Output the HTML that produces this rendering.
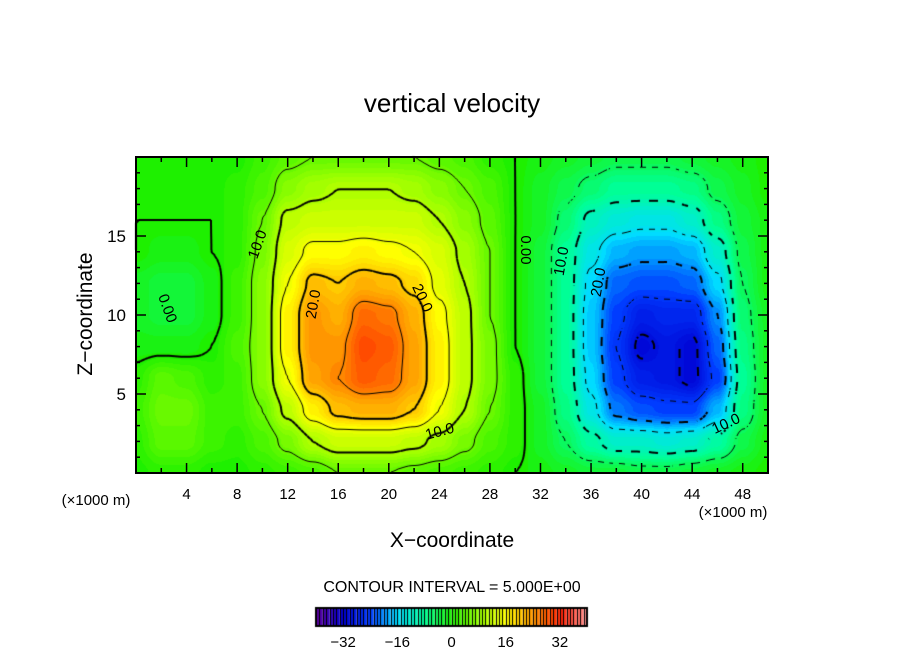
<!DOCTYPE html>
<html><head><meta charset="utf-8"><style>
body{margin:0;background:#fff;}
#wrap{position:relative;width:904px;height:654px;overflow:hidden;font-family:"Liberation Sans",sans-serif;}
canvas,svg{position:absolute;left:0;top:0;}
</style></head><body>
<div id="wrap">
<canvas id="cv" width="904" height="654"></canvas>
<svg id="sv" width="904" height="654"></svg>
</div>
<script>
const xVals=[0,2,4,6,8,10,12,14,16,18,20,22,24,26,28,30,32,34,36,38,40,42,44,46,48,50];
const zVals=[0,2,4,6,8,10,12,14,16,18,20];
const field=[
[0,1,1,0,0,1,2,3,5,5,5,4,3,2,1,0,-1,-2,-3,-3,-4,-4,-3,-2,-1,0],
[1,4,4,2,1,3,6,10,12,12,12,11,9,6,3,1,-2,-5,-9,-12,-12,-13,-12,-9,-4,-1],
[2,5,5,2,2,5,11,17,21,22,22,20,15,10,5,1,-2,-7,-14,-21,-23,-24,-24,-18,-7,-2],
[1,4,3,1,2,7,15,23,25,28,27,23,17,11,6,1,-3,-8,-16,-24,-28,-29,-31,-24,-8,-2],
[-1,-1,-1,0,3,7,17,24,24,29,28,23,17,11,6,0,-3,-8,-17,-25,-31,-29,-31,-22,-7,-2],
[-2,-3,-3,-1,2,7,17,24,22,27,26,22,16,11,5,0,-3,-8,-17,-24,-28,-27,-27,-20,-6,-2],
[-2,-3,-3,-1,2,7,15,21,20,22,21,19,14,10,5,0,-3,-8,-16,-22,-23,-23,-22,-16,-5,-1],
[0,-1,-1,0,1,6,13,16,16,17,16,15,13,9,5,0,-3,-8,-14,-18,-19,-19,-18,-12,-4,-1],
[0,0,0,0,1,5,11,12,12,12,12,12,10,7,4,0,-2,-6,-11,-13,-14,-14,-12,-7,-3,-1],
[0,0,0,0,1,3,7,9,10,10,10,9,7,5,3,0,-2,-4,-6,-8,-8,-8,-7,-4,-2,0],
[0,0,0,0,0,2,4,5,5,5,5,5,4,3,1,0,-1,-2,-3,-4,-4,-4,-3,-2,-1,0]];
const xTicks=[4,8,12,16,20,24,28,32,36,40,44,48];
const zTicks=[5,10,15];
const cbTicks=[-32,-16,0,16,32];
const levels=[-30,-25,-20,-15,-10,-5,0,5,10,15,20,25,30];

const L=136,R=768,T=157,B=473;
const xs=v=>L+(v-0)/(50-0)*(R-L);
const zs=v=>B-(v-0)/(20-0)*(B-T);
const cbL=316,cbR=587;
const cs=v=>cbL+(v+40)/80*(cbR-cbL);

const stops=[[-40,[96,0,160]],[-32,[0,0,210]],[-24,[0,60,255]],[-16,[0,220,255]],[-8,[0,255,150]],[0,[30,240,0]],[8,[150,255,0]],[16,[255,255,0]],[24,[255,150,0]],[32,[255,30,0]],[40,[255,150,150]]];
function cmap(v){v=Math.max(-40,Math.min(40,v));for(let i=0;i<stops.length-1;i++){const a=stops[i],b=stops[i+1];if(v<=b[0]){const t=(v-a[0])/(b[0]-a[0]);return a[1].map((c,k)=>Math.round(c+(b[1][k]-c)*t));}}return stops[stops.length-1][1];}
function val(x,z){
  let fx=(x-xVals[0])/(xVals[1]-xVals[0]), fz=(z-zVals[0])/(zVals[1]-zVals[0]);
  fx=Math.max(0,Math.min(xVals.length-1.0001,fx)); fz=Math.max(0,Math.min(zVals.length-1.0001,fz));
  const i=Math.floor(fx),j=Math.floor(fz),tx=fx-i,tz=fz-j;
  const a=field[j][i],b=field[j][i+1],c=field[j+1][i],d=field[j+1][i+1];
  const sx=tx*tx*(3-2*tx), sz=tz*tz*(3-2*tz);
  return (a*(1-sx)+b*sx)*(1-sz)+(c*(1-sx)+d*sx)*sz;
}
const cv=document.getElementById('cv'),ctx=cv.getContext('2d');
const img=ctx.createImageData(R-L,B-T);
for(let py=0;py<B-T;py++)for(let px=0;px<R-L;px++){
  const x=(px+0.5)/(R-L)*50, z=20-(py+0.5)/(B-T)*20;
  const c=cmap(Math.round(val(x,z)));const o=(py*(R-L)+px)*4;
  img.data[o]=c[0];img.data[o+1]=c[1];img.data[o+2]=c[2];img.data[o+3]=255;}
ctx.putImageData(img,L,T);
const step=3;
ctx.strokeStyle='#000';
levels.forEach(lv=>{
  ctx.lineWidth=(lv%10===0)?2:1;
  for(let py=T;py<B-1;py+=step)for(let px=L;px<R-1;px+=step){
    const X=p=>(p-L)/(R-L)*50, Z=p=>(B-p)/(B-T)*20;
    const p=[[px,py],[px+step,py],[px+step,py+step],[px,py+step]];
    const v=p.map(q=>val(X(q[0]),Z(q[1]))-lv);
    const pts=[];
    for(let k=0;k<4;k++){const a=v[k],b=v[(k+1)%4];if((a<0)!==(b<0)){const t=a/(a-b);pts.push([p[k][0]+(p[(k+1)%4][0]-p[k][0])*t,p[k][1]+(p[(k+1)%4][1]-p[k][1])*t]);}}
    if(pts.length>=2){
      if(lv<0&&Math.floor((px+py)/(lv%10===0?9:6))%2===1)continue;
      ctx.beginPath();ctx.moveTo(pts[0][0],pts[0][1]);ctx.lineTo(pts[1][0],pts[1][1]);
      if(pts.length===4){ctx.moveTo(pts[2][0],pts[2][1]);ctx.lineTo(pts[3][0],pts[3][1]);}
      ctx.stroke();}
  }
});
for(let i=0;i<80;i++){const c=cmap(-40+i+0.5);ctx.fillStyle=`rgb(${c})`;ctx.fillRect(cs(-40+i),608,cs(-39+i)-cs(-40+i),18);
  ctx.fillStyle='#000';ctx.fillRect(Math.round(cs(-40+i)),608,1,18);}
ctx.lineWidth=2;ctx.strokeRect(cbL,608,cbR-cbL,18);

const sv=document.getElementById('sv'),NS='http://www.w3.org/2000/svg';
function mk(tag,attrs,txt){const e=document.createElementNS(NS,tag);for(const k in attrs)e.setAttribute(k,attrs[k]);if(txt!==undefined)e.textContent=txt;sv.appendChild(e);return e;}
let e=mk('rect',{x:L,y:T,width:R-L,height:B-T,fill:'none',stroke:'#000','stroke-width':2});


for(let v=2;v<50;v+=2){const len=(v%4===0)?10:5;
  mk('line',{x1:xs(v),x2:xs(v),y1:B,y2:B-len,stroke:'#000','stroke-width':1.5});
  mk('line',{x1:xs(v),x2:xs(v),y1:T,y2:T+len,stroke:'#000','stroke-width':1.5});}
for(let v=1;v<20;v++){const len=(v%5===0)?10:4;
  mk('line',{x1:L,x2:L+len,y1:zs(v),y2:zs(v),stroke:'#000','stroke-width':1.5});
  mk('line',{x1:R,x2:R-len,y1:zs(v),y2:zs(v),stroke:'#000','stroke-width':1.5});}
xTicks.forEach(v=>{const t=mk('text',{x:xs(v),y:499,'text-anchor':'middle','font-size':15},String(v));
  
  });
zTicks.forEach(v=>{const t=mk('text',{x:126,y:zs(v)+6,'text-anchor':'end','font-size':17},String(v));
  
  });
cbTicks.forEach(v=>{const t=mk('text',{x:cs(v),y:647,'text-anchor':'middle','font-size':15},String(v).replace('-','\u2212'));
  
  });
function lab(txt,x,y,sz,name,rot){const a={x:x,y:y,'text-anchor':'middle','font-size':sz};if(rot)a.transform=`rotate(${rot} ${x} ${y})`;const t=mk('text',a,txt);
  
  return t;}
lab('vertical velocity',452,112,26,'chart-title');
lab('X\u2212coordinate',452,547,21,'x-axis-title');
lab('Z\u2212coordinate',92,314,21,'z-axis-title',-90);
lab('(\u00d71000 m)',96,505,15,'x-unit-left');
lab('(\u00d71000 m)',733,517,15,'x-unit-right');
lab('CONTOUR INTERVAL = 5.000E+00',452,592,16,'contour-interval-label');
[['10.0',262,246,-70],['20.0',318,305,-80],['20.0',418,300,65],['10.0',441,436,-15],['0.00',521,250,90],['0.00',163,310,70],['10.0',566,262,-80],['20.0',603,283,-80],['10.0',728,428,-25]].forEach(d=>{
  const t=mk('text',{x:d[1],y:d[2],'text-anchor':'middle','font-size':15,transform:`rotate(${d[3]} ${d[1]} ${d[2]})`},d[0]);
  
  });
</script>
</body></html>
